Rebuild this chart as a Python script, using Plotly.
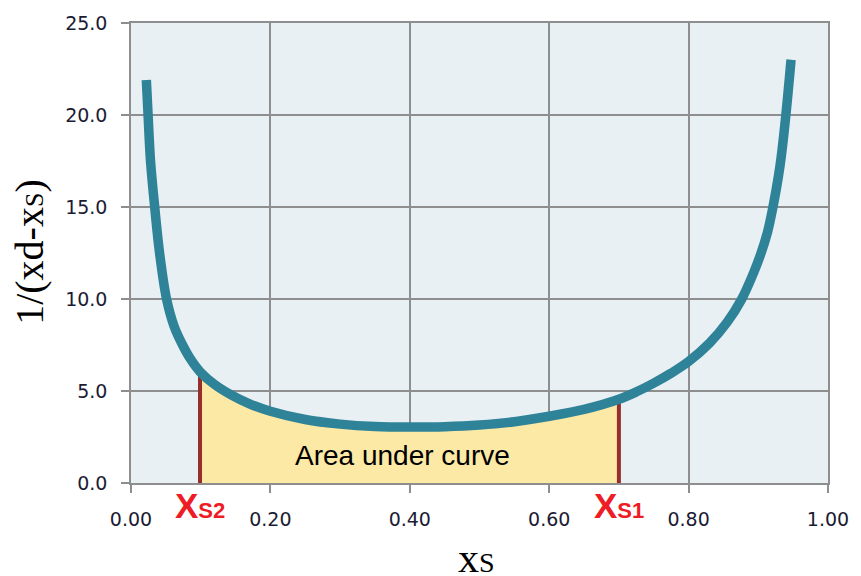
import plotly.graph_objects as go

# Curve
xs_vals = [0.022, 0.0245, 0.028, 0.034, 0.041, 0.051, 0.062, 0.074, 0.086, 0.099,
           0.12, 0.143, 0.17, 0.20, 0.25, 0.30, 0.35, 0.40, 0.45, 0.50,
           0.55, 0.60, 0.65, 0.70, 0.726, 0.75, 0.775, 0.80, 0.83, 0.855,
           0.876, 0.893, 0.904, 0.913, 0.920, 0.931, 0.939, 0.947]
inv_vals = [21.9, 20.0, 17.5, 15.0, 12.5, 10.0, 8.5, 7.5, 6.7, 6.05,
            5.35, 4.8, 4.3, 3.9, 3.45, 3.2, 3.07, 3.04, 3.06, 3.15,
            3.33, 3.63, 4.0, 4.55, 4.97, 5.43, 5.97, 6.6, 7.6, 8.72,
            9.98, 11.4, 12.5, 13.6, 14.8, 17.2, 19.8, 23.0]

xs2 = 0.099
xs1 = 0.70

x_ticks = [0.0, 0.2, 0.4, 0.6, 0.8, 1.0]
x_tick_labels = ["0.00", "0.20", "0.40", "0.60", "0.80", "1.00"]
y_ticks = [0, 5, 10, 15, 20, 25]
y_tick_labels = ["0.0", "5.0", "10.0", "15.0", "20.0", "25.0"]

fill_x = [x for x in xs_vals if xs2 <= x <= xs1]
fill_y = [y for x, y in zip(xs_vals, inv_vals) if xs2 <= x <= xs1]
y_at_xs2 = inv_vals[xs_vals.index(xs2)]
y_at_xs1 = inv_vals[xs_vals.index(xs1)]

fig = go.Figure()
fig.add_trace(go.Scatter(x=fill_x, y=fill_y, fill="tozeroy", mode="none",
                         fillcolor="#FCE9A6", line_shape="spline", showlegend=False))
fig.add_trace(go.Scatter(x=[xs2, xs2], y=[0, y_at_xs2], mode="lines",
                         line=dict(color="#962E2B", width=4), showlegend=False))
fig.add_trace(go.Scatter(x=[xs1, xs1], y=[0, y_at_xs1], mode="lines",
                         line=dict(color="#962E2B", width=4), showlegend=False))
fig.add_trace(go.Scatter(x=xs_vals, y=inv_vals, mode="lines",
                         line=dict(color="#2F8398", width=9.5, shape="spline"),
                         showlegend=False))

grid = "#8E8E8E"
tick_font = dict(family="DejaVu Sans", size=19, color="#1B1B33")
fig.update_xaxes(range=[0, 1], tickvals=x_ticks, ticktext=x_tick_labels,
                 showgrid=True, gridcolor=grid, gridwidth=1.5,
                 showline=True, linecolor=grid, linewidth=1.5, mirror=True,
                 ticks="outside", ticklen=8, tickcolor=grid, tickwidth=1.5,
                 zeroline=False, ticklabelstandoff=10, tickfont=tick_font)
fig.update_yaxes(range=[0, 25], tickvals=y_ticks, ticktext=y_tick_labels,
                 showgrid=True, gridcolor=grid, gridwidth=1.5,
                 showline=True, linecolor=grid, linewidth=1.5, mirror=True,
                 ticks="outside", ticklen=8, tickcolor=grid, tickwidth=1.5,
                 zeroline=False, ticklabelstandoff=10, tickfont=tick_font)

fig.add_annotation(x=0.39, y=1.5, text="Area under curve", showarrow=False,
                   font=dict(family="Liberation Sans", size=28, color="#000000"))
fig.add_annotation(x=xs2, y=0, yshift=-22, text="X<span style='font-size:22px'>S2</span>",
                   showarrow=False,
                   font=dict(family="Liberation Sans", size=35, color="#EE1C25", weight="bold"))
fig.add_annotation(x=xs1, y=0, yshift=-22, text="X<span style='font-size:22px'>S1</span>",
                   showarrow=False,
                   font=dict(family="Liberation Sans", size=35, color="#EE1C25", weight="bold"))
fig.add_annotation(xref="paper", yref="paper", x=-0.146, y=0.503, textangle=-90,
                   xanchor="center", yanchor="middle",
                   text="1/(xd-x<span style='font-size:26px'>S</span>)", showarrow=False,
                   font=dict(family="Liberation Serif", size=40, color="#000000"))
fig.add_annotation(xref="paper", yref="paper", x=0.495, y=-0.164,
                   xanchor="center", yanchor="middle",
                   text="x<span style='font-size:28px'>S</span>", showarrow=False,
                   font=dict(family="Liberation Serif", size=42, color="#000000"))

fig.update_layout(width=861, height=576,
                  margin=dict(l=131, r=25, t=20, b=93),
                  plot_bgcolor="#E8F0F4", paper_bgcolor="#FFFFFF")

fig.write_html("out.html", config={"displayModeBar": False},
               post_script="document.body.style.margin='0';")
